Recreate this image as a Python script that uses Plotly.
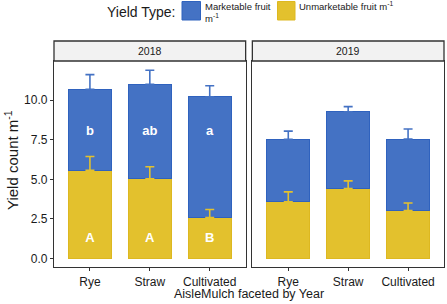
import plotly.graph_objects as go
from plotly.subplots import make_subplots

years = ["2018", "2019"]
mulch = ["Rye", "Straw", "Cultivated"]
unmarketable = {"2018": [5.56, 5.03, 2.59], "2019": [3.58, 4.42, 3.03]}
marketable = {"2018": [5.11, 5.96, 7.62], "2019": [3.94, 4.84, 4.51]}
se_unmarketable = {"2018": [0.88, 0.76, 0.51], "2019": [0.63, 0.48, 0.48]}
se_marketable = {"2018": [0.93, 0.89, 0.69], "2019": [0.52, 0.32, 0.63]}
letters_mk = {"2018": ["b", "ab", "a"]}
letters_un = {"2018": ["A", "A", "B"]}
letter_y_mk = 8.0
letter_y_un = 1.25
y_ticks = [0.0, 2.5, 5.0, 7.5, 10.0]

BLUE = "#4472C4"
BLUE_LINE = "#2F62BE"
YEL = "#E3C12D"
YEL_LINE = "#DDB820"
FONT = "Liberation Sans, Arial, sans-serif"

W, H = 447, 304
ML, MR, MT, MB = 54, 3, 61, 37
PW, PH = W - ML - MR, H - MT - MB

def px(x):
    return (x - ML) / PW

def py(y):
    return (H - MB - y) / PH

fig = make_subplots(rows=1, cols=2, shared_yaxes=True, horizontal_spacing=(252.7 - 246) / PW)

for i, yr in enumerate(years):
    col = i + 1
    fig.add_trace(go.Bar(x=mulch, y=unmarketable[yr], marker=dict(color=YEL, line=dict(color=YEL_LINE, width=1)),
                         width=0.72, showlegend=False, name="Unmarketable"), row=1, col=col)
    fig.add_trace(go.Bar(x=mulch, y=marketable[yr], marker=dict(color=BLUE, line=dict(color=BLUE_LINE, width=1)),
                         width=0.72, showlegend=False, name="Marketable"), row=1, col=col)
    totals = [u + m for u, m in zip(unmarketable[yr], marketable[yr])]
    fig.add_trace(go.Scatter(x=mulch, y=unmarketable[yr], mode="markers", marker=dict(size=0.1, opacity=0),
                             error_y=dict(type="data", array=se_unmarketable[yr], arrayminus=[0, 0, 0], symmetric=False,
                                          color=YEL, thickness=1.6, width=4.5),
                             showlegend=False, hoverinfo="skip"), row=1, col=col)
    fig.add_trace(go.Scatter(x=mulch, y=totals, mode="markers", marker=dict(size=0.1, opacity=0),
                             error_y=dict(type="data", array=se_marketable[yr], arrayminus=[0, 0, 0], symmetric=False,
                                          color=BLUE, thickness=1.6, width=4.5),
                             showlegend=False, hoverinfo="skip"), row=1, col=col)
    if yr in letters_mk:
        fig.add_trace(go.Scatter(x=mulch, y=[letter_y_mk] * 3, mode="text", text=letters_mk[yr],
                                 textfont=dict(color="white", size=13, family=FONT, weight="bold"), showlegend=False,
                                 hoverinfo="skip"), row=1, col=col)
        fig.add_trace(go.Scatter(x=mulch, y=[letter_y_un] * 3, mode="text", text=letters_un[yr],
                                 textfont=dict(color="white", size=13, family=FONT, weight="bold"), showlegend=False,
                                 hoverinfo="skip"), row=1, col=col)

axis_common = dict(showline=True, mirror=True, linecolor="#333333", linewidth=1.3, showgrid=False, zeroline=False,
                   ticks="outside", ticklen=3, tickcolor="#333333", tickwidth=1, automargin=False,
                   tickfont=dict(family=FONT, size=12, color="#1a1a1a"))
fig.update_xaxes(range=[-0.6, 2.6], **axis_common)
fig.update_yaxes(range=[-0.53, 12.46], tickvals=y_ticks, tickformat=".1f", **axis_common)
fig.update_yaxes(showticklabels=False, ticks="", row=1, col=2)

shapes = []
annotations = []
strip_top = py(41)
for i, yr in enumerate(years):
    dom = fig.layout["xaxis" if i == 0 else "xaxis2"].domain
    shapes.append(dict(type="rect", xref="paper", yref="paper", x0=dom[0], x1=dom[1], y0=1, y1=strip_top,
                       fillcolor="#F2F2F2", line=dict(color="#333333", width=1.3)))
    annotations.append(dict(xref="paper", yref="paper", x=(dom[0] + dom[1]) / 2, y=(1 + strip_top) / 2, text=yr,
                            xanchor="center", yanchor="middle",
                            showarrow=False, font=dict(family=FONT, size=10.5, color="#1a1a1a")))

annotations.append(dict(xref="paper", yref="paper", x=px(249), y=py(294), text="AisleMulch faceted by Year",
                        xanchor="center", yanchor="middle",
                        showarrow=False, font=dict(family=FONT, size=12.5, color="#1a1a1a")))
annotations.append(dict(xref="paper", yref="paper", x=px(11), y=py(160), text="Yield count m<sup>-1</sup>",
                        xanchor="center", yanchor="middle", textangle=-90,
                        showarrow=False, font=dict(family=FONT, size=15, color="#1a1a1a")))

# legend
annotations.append(dict(xref="paper", yref="paper", x=px(105), y=py(12), xanchor="left", yanchor="middle",
                        text="Yield Type:", showarrow=False, font=dict(family=FONT, size=14, color="#1a1a1a")))
shapes.append(dict(type="rect", xref="paper", yref="paper", x0=px(182), x1=px(200.5), y0=py(1.5), y1=py(20),
                   fillcolor=BLUE, line=dict(color=BLUE_LINE, width=1)))
annotations.append(dict(xref="paper", yref="paper", x=px(203), y=py(12), xanchor="left", yanchor="middle",
                        align="left", text="Marketable fruit<br>m<sup>-1</sup>", showarrow=False,
                        font=dict(family=FONT, size=9.5, color="#1a1a1a")))
shapes.append(dict(type="rect", xref="paper", yref="paper", x0=px(277.5), x1=px(295), y0=py(1.5), y1=py(20),
                   fillcolor=YEL, line=dict(color=YEL_LINE, width=1)))
annotations.append(dict(xref="paper", yref="paper", x=px(297), y=py(6), xanchor="left", yanchor="middle",
                        align="left", text="Unmarketable fruit m<sup>-1</sup>", showarrow=False,
                        font=dict(family=FONT, size=9.5, color="#1a1a1a")))

fig.update_layout(barmode="stack", width=W, height=H, margin=dict(l=ML, r=MR, t=MT, b=MB),
                  plot_bgcolor="white", paper_bgcolor="white", shapes=shapes, annotations=annotations,
                  font=dict(family=FONT))
fig.write_html("out.html", config={"displayModeBar": False},
               post_script="document.body.style.margin='0';document.body.style.padding='0';"
                           "document.documentElement.style.overflow='hidden';")
